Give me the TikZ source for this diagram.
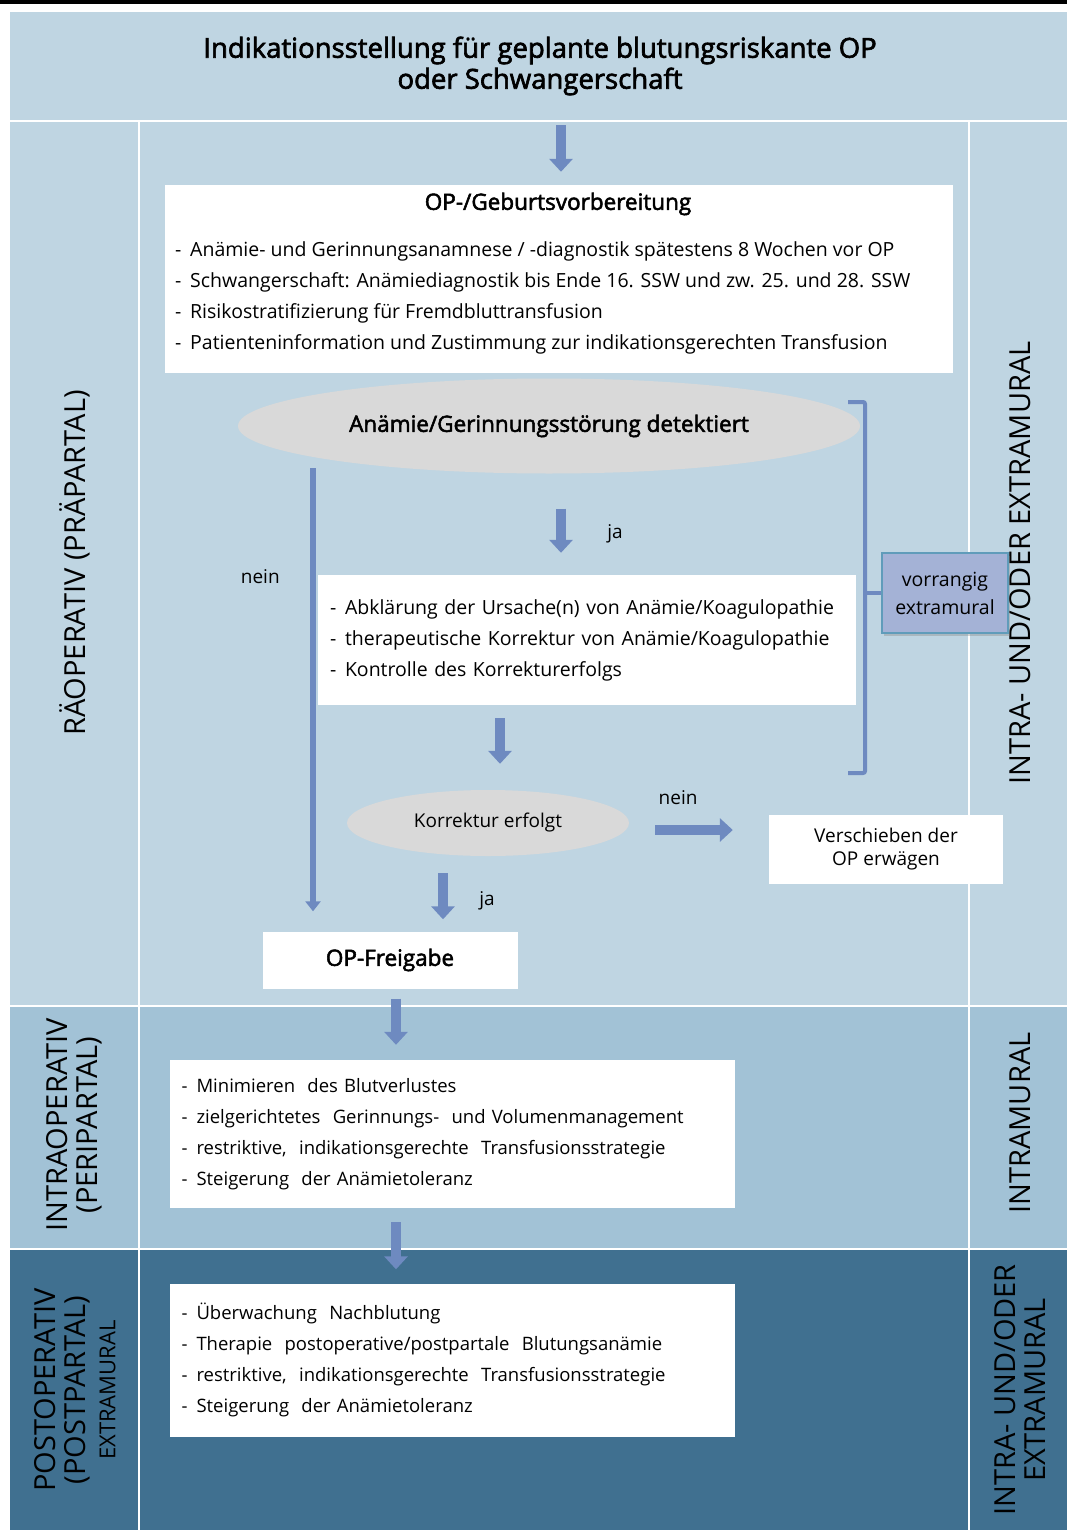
\documentclass[tikz,border=0pt]{standalone}
\usepackage{fontspec}
\setmainfont{Open Sans}
\newfontfamily\halbfett[FakeBold=2.4]{Open Sans}
\usetikzlibrary{arrows.meta,positioning,shapes.geometric,shadows}

\definecolor{bandhell}{RGB}{191,213,226}
\definecolor{bandmittel}{RGB}{162,194,214}
\definecolor{banddunkel}{RGB}{64,112,144}
\definecolor{pfeilblau}{RGB}{110,138,192}
\definecolor{ovalgrau}{RGB}{217,217,217}
\definecolor{vorrangblau}{RGB}{164,178,214}
\definecolor{vorrangrand}{RGB}{96,156,186}

\newcommand{\strich}{\makebox[15pt][l]{-}}

\tikzset{
  trenn/.style={draw=white, line width=2.5pt},
  seite/.style={font=\fontsize{29}{30}\selectfont, inner sep=0pt},
  wbox/.style={fill=white, inner sep=0pt},
  liste/.style={align=left, font=\fontsize{19.5}{31}\selectfont},
  oval/.style={ellipse, fill=ovalgrau, inner sep=0pt},
  marke/.style={font=\fontsize{19}{22}\selectfont},
  kopf/.style={font=\fontsize{22.5}{26}\halbfett},
  blockpfeil/.style={draw=pfeilblau, line width=10pt, -{Triangle[width=23pt,length=13pt]}},
  duennpfeil/.style={draw=pfeilblau, line width=6pt, -{Triangle[width=15pt,length=10pt]}},
  klammer/.style={draw=pfeilblau, line width=4pt, rounded corners=2pt}
}

\begin{document}
\begin{tikzpicture}[x=1pt,y=-1pt]
\useasboundingbox (0,0) rectangle (1067,1530);

% Hintergrund: Phasen
\fill[black] (0,0) rectangle (1067,4);
\fill[bandhell] (10,12) rectangle (1067,1006);
\fill[bandmittel] (10,1006) rectangle (1067,1249);
\fill[banddunkel] (10,1249) rectangle (1067,1530);
\draw[trenn] (10,121) -- (1067,121);
\draw[trenn] (10,1006) -- (1067,1006);
\draw[trenn] (10,1249) -- (1067,1249);
\draw[trenn] (139,121) -- (139,1530);
\draw[trenn] (969,121) -- (969,1530);

\node[fill=bandhell, minimum width=1057pt, minimum height=108pt, align=center,
  font=\fontsize{27.5}{31}\halbfett] (titel) at (540,66)
  {Indikationsstellung für geplante blutungsriskante OP\\oder Schwangerschaft};

% Seitenbeschriftungen
\node[seite, rotate=90] (praeop) at (75,563) {RÄOPERATIV (PRÄPARTAL)};
\node[seite, rotate=90] (ort1) at (1020,563) {INTRA- UND/ODER EXTRAMURAL};
\node[seite, rotate=90, align=center] (intraop) at (74,1125) {INTRAOPERATIV\\(PERIPARTAL)};
\node[seite, rotate=90] (ort2) at (1020,1123) {INTRAMURAL};
\node[seite, rotate=90, align=center] (postop) at (75,1390)
  {POSTOPERATIV\\(POSTPARTAL)\\{\fontsize{22}{26}\selectfont EXTRAMURAL}};
\node[seite, rotate=90, align=center] (ort3) at (1020,1390) {INTRA- UND/ODER\\EXTRAMURAL};

% Vorbereitung
\node[wbox, minimum width=788pt, minimum height=188pt] (vorb) at (559,279) {};
\node[kopf] (vorbtitel) at (558,204) {OP-/Geburtsvorbereitung};
\node[liste, anchor=west, inner sep=0pt] (vorbliste) at (175,298)
  {\strich Anämie- und Gerinnungsanamnese / -diagnostik spätestens 8 Wochen vor OP\\
   \strich Schwangerschaft: Anämiediagnostik bis Ende 16. SSW und zw. 25. und 28. SSW\\
   \strich Risikostratifizierung für Fremdbluttransfusion\\
   \strich Patienteninformation und Zustimmung zur indikationsgerechten Transfusion};

\node[oval, kopf, minimum width=622pt, minimum height=95pt] (detekt) at (549,426)
  {Anämie/Gerinnungsstörung detektiert};

\node[wbox, liste, text width=514pt, inner xsep=12pt, minimum height=130pt] (massn) at (587,640)
  {\strich Abklärung der Ursache(n) von Anämie/Koagulopathie\\
   \strich therapeutische Korrektur von Anämie/Koagulopathie\\
   \strich Kontrolle des Korrekturerfolgs};

\node[draw=vorrangrand, fill=vorrangblau, line width=1.5pt, minimum width=126pt, minimum height=80pt,
  align=center, font=\fontsize{19.5}{28}\selectfont,
  drop shadow={opacity=0.35, shadow xshift=2pt, shadow yshift=-3pt}] (vorrang) at (945,593)
  {vorrangig\\extramural};

\node[oval, minimum width=282pt, minimum height=66pt, font=\fontsize{19}{22}\selectfont] (korr) at (488,823)
  {Korrektur erfolgt};
\node[wbox, align=center, minimum width=234pt, minimum height=69pt, font=\fontsize{19}{23}\selectfont] (versch) at (886,849)
  {Verschieben der\\OP erwägen};
\node[wbox, kopf, minimum width=255pt, minimum height=57pt] (freigabe) at (390,960)
  {OP-Freigabe};

% Intra- und postoperativ
\node[wbox, liste, font=\fontsize{18.5}{31}\selectfont, text width=541pt, inner xsep=12pt, minimum height=148pt] (intra) at (452,1134)
  {\strich Minimieren~ des Blutverlustes\\
   \strich zielgerichtetes~ Gerinnungs-~ und Volumenmanagement\\
   \strich restriktive,~ indikationsgerechte~ Transfusionsstrategie\\
   \strich Steigerung~ der Anämietoleranz};
\node[wbox, liste, font=\fontsize{18.5}{31}\selectfont, text width=541pt, inner xsep=12pt, minimum height=153pt] (post) at (452,1360)
  {\strich Überwachung~ Nachblutung\\
   \strich Therapie~ postoperative/postpartale~ Blutungsanämie\\
   \strich restriktive,~ indikationsgerechte~ Transfusionsstrategie\\
   \strich Steigerung~ der Anämietoleranz};

% Pfeile
\coordinate (jaA) at ([xshift=12pt]detekt.south);
\draw[blockpfeil, shorten <=5pt, shorten >=13pt] (jaA |- titel.south) -- (jaA |- vorb.north);
\draw[blockpfeil, shorten <=35pt, shorten >=22pt] (jaA) -- (jaA |- massn.north)
  node[marke, pos=0.59, right=38pt] {ja};
\coordinate (neinA) at (313,468);
\draw[duennpfeil, shorten >=20pt] (neinA) -- (neinA |- freigabe.north)
  node[marke, pos=0.235, left=27pt] {nein};
\coordinate (korrA) at ([xshift=12pt]korr.north);
\draw[blockpfeil, shorten <=13pt, shorten >=26pt] (korrA |- massn.south) -- (korrA);
\coordinate (neinB) at ([yshift=-7pt]korr.east);
\draw[blockpfeil, shorten <=26pt, shorten >=36pt] (neinB) -- (neinB -| versch.west)
  node[marke, pos=0.35, above=17pt] {nein};
\coordinate (jaB) at ([xshift=-45pt]korr.south);
\draw[blockpfeil, shorten <=17pt, shorten >=12pt] (jaB) -- (jaB |- freigabe.north)
  node[marke, pos=0.6, right=28pt] {ja};
\coordinate (freiA) at ([xshift=6pt]freigabe.south);
\draw[blockpfeil, shorten <=10pt, shorten >=15pt] (freiA) -- (freiA |- intra.north);
\draw[blockpfeil, shorten <=14pt, shorten >=14pt] (freiA |- intra.south) -- (freiA |- post.north);

% Klammer
\coordinate (klammerO) at (848,402);
\coordinate (klammerU) at (848,773);
\draw[klammer] (klammerO) -- ++(17,0) |- (klammerU);
\draw[klammer] (vorrang.west) -- ++(-17,0);
\end{tikzpicture}
\end{document}
